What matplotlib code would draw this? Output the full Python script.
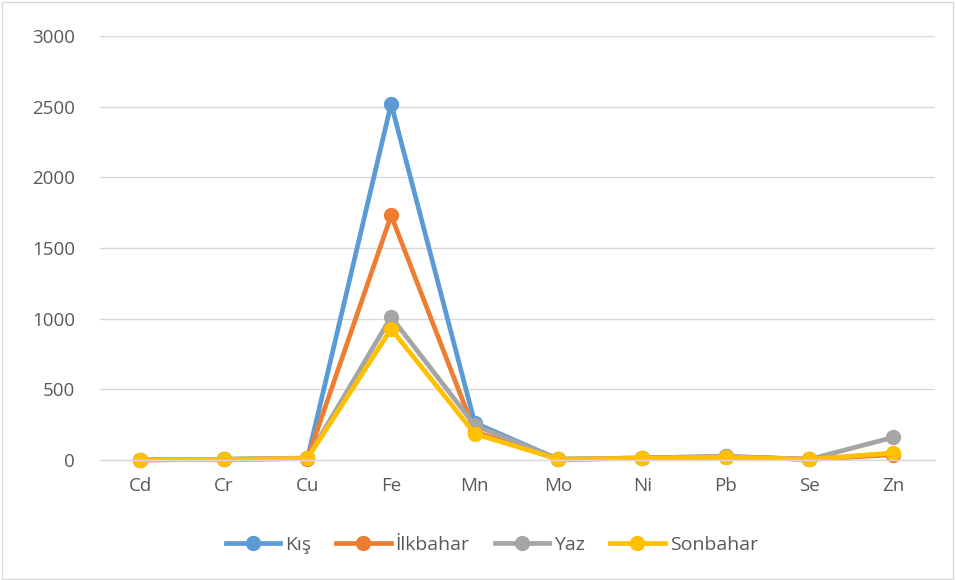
import matplotlib
matplotlib.use('Agg')
import matplotlib.pyplot as plt
from matplotlib.patches import Rectangle

# ── DATA ───────────────────────────────────────────────────────────────────
elements = ['Cd', 'Cr', 'Cu', 'Fe', 'Mn', 'Mo', 'Ni', 'Pb', 'Se', 'Zn']
kis      = [1, 5, 12, 2520, 262, 5, 15, 25, 5, 45]
ilkbahar = [1, 4, 10, 1730, 200, 4, 12, 22, 4, 38]
yaz      = [1, 5, 14, 1012, 245, 6, 14, 26, 5, 160]
sonbahar = [1, 4, 11, 927, 185, 5, 12, 20, 4, 50]

series = [('Kış', kis, '#5B9BD5'),
          ('İlkbahar', ilkbahar, '#ED7D31'),
          ('Yaz', yaz, '#A5A5A5'),
          ('Sonbahar', sonbahar, '#FFC000')]

plt.rcParams['font.family'] = ['Open Sans', 'DejaVu Sans']

fig = plt.figure(figsize=(9.56, 5.8), dpi=100)
fig.patches.append(Rectangle((0.002, 0.002), 0.995, 0.995, transform=fig.transFigure,
                             fill=False, edgecolor='#d9d9d9', linewidth=1))
ax = fig.add_axes([0.1046, 0.2069, 0.8734, 0.7311])

x = list(range(len(elements)))
for name, vals, col in series:
    ax.plot(x, vals, color=col, linewidth=3.4, marker='o', markersize=10,
            solid_joinstyle='round', label=name, clip_on=False)

ax.set_xlim(-0.48, 9.5)
ax.set_ylim(0, 3000)
ax.set_yticks(range(0, 3001, 500))
ax.set_xticks(x)
ax.set_xticklabels(elements)
ax.tick_params(axis='both', length=0, labelsize=13.5, colors='#595959')
ax.tick_params(axis='x', pad=12)
ax.tick_params(axis='y', pad=18)
ax.grid(True, axis='y', color='#d9d9d9', linewidth=1)
ax.set_axisbelow(True)
for s in ['top', 'right', 'left']:
    ax.spines[s].set_visible(False)
ax.spines['bottom'].set_color('#d9d9d9')
ax.spines['bottom'].set_linewidth(1)

leg = ax.legend(loc='center', bbox_to_anchor=(0.469, -0.2), ncol=4, frameon=False,
                fontsize=14, handlelength=2.8, handletextpad=0.25, columnspacing=1.3)
for t in leg.get_texts():
    t.set_color('#595959')

fig.savefig('out.png', dpi=100)
